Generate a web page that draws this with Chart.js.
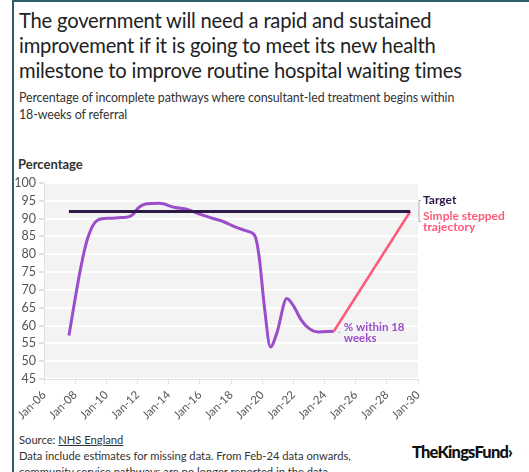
<!DOCTYPE html>
<html>
<head>
<meta charset="utf-8">
<script src="https://cdn.jsdelivr.net/npm/chart.js@4/dist/chart.umd.min.js"></script>
<style>
  body { margin: 0; width: 529px; height: 472px; overflow: hidden; background: #fff; font-family: Lato, sans-serif; color: #333; }
  #frame { position: absolute; left: 12px; top: 0; width: 540px; height: 500px; border-left: 2px solid #2f5d70; border-top: 2px solid #2f5d70; }
  #title { position: absolute; left: 19px; top: 8px; font-size: 20.2px; line-height: 25px; letter-spacing: -0.2px; color: #222; white-space: nowrap; }
  #sub { position: absolute; left: 19px; top: 89px; font-size: 12.4px; line-height: 17px; letter-spacing: -0.1px; color: #333; white-space: nowrap; }
  #ylab { position: absolute; left: 18px; top: 156px; font-size: 13px; font-weight: bold; color: #333; }
  #wrap { position: absolute; left: 0; top: 170px; width: 529px; height: 260px; }
  #foot { position: absolute; left: 19px; top: 432px; font-size: 11.2px; line-height: 16px; color: #333; white-space: nowrap; }
  #foot u { text-decoration: underline; }
  #logo { position: absolute; left: 412px; top: 442px; font-size: 16.5px; font-weight: 900; letter-spacing: -0.8px; color: #111; }
</style>
</head>
<body>
<div id="frame"></div>
<div id="title">The government will need a rapid and sustained<br>improvement if it is going to meet its new health<br>milestone to improve routine hospital waiting times</div>
<div id="sub">Percentage of incomplete pathways where consultant-led treatment begins within<br>18-weeks of referral</div>
<div id="ylab">Percentage</div>
<div id="wrap"><canvas id="chart"></canvas></div>
<div id="foot">Source: <u>NHS England</u><br>Data include estimates for missing data. From Feb-24 data onwards,<br>community service pathways are no longer reported in the data.</div>
<div id="logo">TheKingsFund&#8250;</div>
<script>
// values (x = decimal year)
var actualYears = [2007.6, 2008.33, 2008.8, 2009.45, 2010.2, 2011.0, 2011.6, 2012.1, 2012.5, 2013.4, 2014.4, 2015.2, 2015.9, 2016.8, 2017.5, 2018.3, 2019.1, 2019.55, 2019.8, 2020.15, 2020.53, 2020.95, 2021.58, 2022.0, 2022.5, 2023.0, 2023.6, 2024.6];
var actualValues = [57.2, 75.6, 84.5, 89.6, 90.1, 90.3, 90.8, 93.2, 94.1, 94.3, 93.1, 92.6, 91.4, 90.1, 89.2, 87.6, 86.4, 85.0, 79.5, 65.0, 54.0, 58.0, 67.6, 65.6, 61.6, 59.2, 58.2, 58.4];
var trajectoryYears = [2024.6, 2029.5];
var trajectoryValues = [58.4, 92];
var targetYears = [2007.6, 2029.5];
var targetValues = [92, 92];

function pts(xs, ys) { return xs.map(function (x, i) { return {x: x, y: ys[i]}; }); }

var extras = {
  id: 'extras',
  beforeDraw: function (chart) {
    var a = chart.chartArea, ctx = chart.ctx;
    ctx.save();
    ctx.fillStyle = '#f3f3f3';
    ctx.fillRect(a.left, a.top, a.right - a.left, a.bottom - a.top);
    ctx.restore();
  },
  afterDatasetsDraw: function (chart) {
    var ctx = chart.ctx, xs = chart.scales.x, ys = chart.scales.y;
    var xEnd = xs.getPixelForValue(2030);
    var yT = ys.getPixelForValue(92);
    ctx.save();
    // bracket
    ctx.strokeStyle = '#aaa'; ctx.lineWidth = 1;
    ctx.beginPath();
    ctx.moveTo(xEnd + 3, yT - 11); ctx.lineTo(xEnd + 1, yT - 11); ctx.lineTo(xEnd + 1, yT + 10); ctx.lineTo(xEnd + 3, yT + 10);
    ctx.stroke();
    ctx.textBaseline = 'middle';
    ctx.font = 'bold 12px Lato';
    ctx.fillStyle = '#2e1a47';
    ctx.fillText('Target', xEnd + 5, yT - 11);
    ctx.fillStyle = '#ff5a78';
    ctx.fillText('Simple stepped', xEnd + 5, yT + 5);
    ctx.fillText('trajectory', xEnd + 5, yT + 16);
    // series label
    var lx = xs.getPixelForValue(2024.6), ly = ys.getPixelForValue(58.4);
    ctx.strokeStyle = '#bbb';
    ctx.beginPath(); ctx.moveTo(lx + 4, ly + 1); ctx.lineTo(lx + 7, ly + 1); ctx.stroke();
    ctx.font = 'bold 11.5px Lato';
    ctx.fillStyle = '#9b4dca';
    ctx.fillText('% within 18', lx + 10, ly - 4);
    ctx.fillText('weeks', lx + 10, ly + 7);
    ctx.restore();
  }
};

new Chart(document.getElementById('chart'), {
  type: 'line',
  data: {
    datasets: [
      {data: pts(targetYears, targetValues), borderColor: '#2e1a47', borderWidth: 3, pointRadius: 0},
      {data: pts(trajectoryYears, trajectoryValues), borderColor: '#ff5a78', borderWidth: 2.5, pointRadius: 0},
      {data: pts(actualYears, actualValues), borderColor: '#9b4dca', borderWidth: 3, pointRadius: 0, cubicInterpolationMode: 'monotone'}
    ]
  },
  options: {
    responsive: true,
    maintainAspectRatio: false,
    animation: false,
    layout: {padding: {left: 0, right: 111, top: 13, bottom: 0}},
    plugins: {legend: {display: false}, tooltip: {enabled: false}},
    scales: {
      x: {
        type: 'linear', min: 2006, max: 2030,
        afterFit: function (s) { s.height = 51; },
        border: {color: '#e2e2e2'},
        grid: {display: true, drawOnChartArea: false, color: '#e2e2e2', tickLength: 5},
        ticks: {
          stepSize: 2, autoSkip: false, minRotation: 45, maxRotation: 45, padding: 4, color: '#555', font: {family: 'Lato', size: 11.5},
          callback: function (v) { return 'Jan-' + String(v).slice(2); }
        }
      },
      y: {
        min: 45, max: 100,
        afterFit: function (s) { s.width = 44; },
        border: {color: '#e2e2e2'},
        grid: {color: '#ffffff', lineWidth: 2, tickColor: '#e2e2e2', tickLength: 5},
        ticks: {stepSize: 5, autoSkip: false, padding: 3, color: '#555', font: {family: 'Lato', size: 12.5}}
      }
    }
  },
  plugins: [extras]
});
</script>
</body>
</html>
